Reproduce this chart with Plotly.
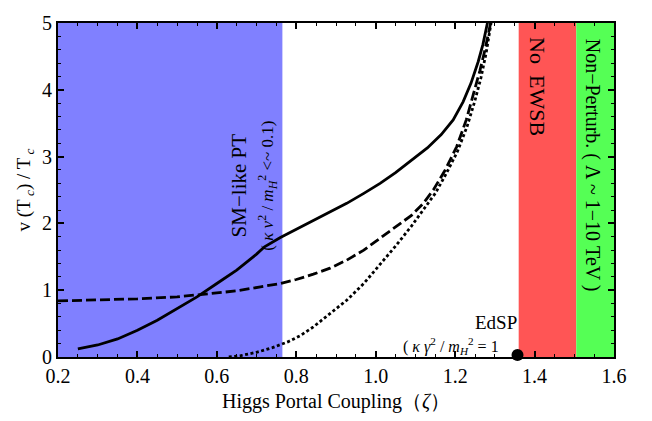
import plotly.graph_objects as go

# Data
solid_x = [0.25, 0.30, 0.35, 0.40, 0.45, 0.50, 0.55, 0.60, 0.65, 0.70, 0.72, 0.76, 0.80, 0.843, 0.885, 0.927, 0.97, 1.011, 1.05, 1.09, 1.13, 1.165, 1.195, 1.22, 1.24, 1.258, 1.27, 1.282]
solid_y = [0.12, 0.18, 0.27, 0.40, 0.55, 0.72, 0.90, 1.10, 1.30, 1.54, 1.65, 1.79, 1.91, 2.04, 2.17, 2.30, 2.45, 2.60, 2.76, 2.94, 3.13, 3.33, 3.55, 3.82, 4.10, 4.42, 4.68, 5.02]

dashed_x = [0.20, 0.30, 0.40, 0.50, 0.573, 0.65, 0.71, 0.76, 0.80, 0.843, 0.885, 0.927, 0.97, 1.011, 1.05, 1.09, 1.12, 1.145, 1.175, 1.204, 1.228, 1.246, 1.262, 1.276, 1.29]
dashed_y = [0.84, 0.85, 0.87, 0.90, 0.94, 0.99, 1.05, 1.10, 1.16, 1.24, 1.33, 1.45, 1.60, 1.78, 1.95, 2.12, 2.30, 2.50, 2.80, 3.15, 3.55, 3.92, 4.28, 4.62, 5.02]

dotted_x = [0.63, 0.66, 0.70, 0.74, 0.78, 0.81, 0.843, 0.88, 0.927, 0.97, 1.011, 1.05, 1.09, 1.12, 1.15, 1.178, 1.206, 1.23, 1.249, 1.265, 1.278, 1.291]
dotted_y = [0.0, 0.02, 0.07, 0.14, 0.23, 0.32, 0.45, 0.62, 0.85, 1.10, 1.38, 1.66, 1.96, 2.20, 2.45, 2.75, 3.08, 3.45, 3.82, 4.18, 4.55, 5.02]

regions = [(0.2, 0.765, "#8080FF"), (1.36, 1.505, "#FF5555"), (1.505, 1.6, "#55FF55")]
edsp_x = [1.357]
edsp_y = [0.03]

FONT = "Liberation Serif"

fig = go.Figure()
for x0, x1, c in regions:
    fig.add_shape(type="rect", xref="x", yref="y", x0=x0, x1=x1, y0=0, y1=5,
                  fillcolor=c, line_width=0, layer="below")

fig.add_trace(go.Scatter(x=solid_x, y=solid_y, mode="lines",
                         line=dict(color="black", width=2.8), showlegend=False))
fig.add_trace(go.Scatter(x=dashed_x, y=dashed_y, mode="lines",
                         line=dict(color="black", width=2.8, dash="10px,4px"), showlegend=False))
fig.add_trace(go.Scatter(x=dotted_x, y=dotted_y, mode="lines",
                         line=dict(color="black", width=2.8, dash="3px,2.5px"), showlegend=False))
fig.add_trace(go.Scatter(x=edsp_x, y=edsp_y, mode="markers", cliponaxis=False,
                         marker=dict(color="black", size=12), showlegend=False))

fig.add_annotation(x=0.692, y=2.57, xref="x", yref="y", textangle=-90, showarrow=False,
                   text="SM−like PT<br><span style='font-size:17px'>( <i>κ v</i><sup>2</sup> / <i>m<sub>H</sub></i><sup>2</sup> <~ 0.1)</span>",
                   font=dict(family=FONT, size=21, color="black"))
fig.add_annotation(x=1.407, y=4.05, xref="x", yref="y", textangle=90, showarrow=False,
                   text="No  EWSB", font=dict(family=FONT, size=22, color="black"))
fig.add_annotation(x=1.546, y=2.87, xref="x", yref="y", textangle=90, showarrow=False,
                   text="Non−Perturb. ( Λ ~ 1−10 TeV )", font=dict(family=FONT, size=20, color="black"))
fig.add_annotation(x=1.304, y=0.51, xref="x", yref="y", showarrow=False,
                   text="EdSP", font=dict(family=FONT, size=19, color="black"))
fig.add_annotation(x=1.19, y=0.17, xref="x", yref="y", showarrow=False,
                   text="( <i>κ γ</i><sup>2</sup> / <i>m<sub>H</sub></i><sup>2</sup> = 1",
                   font=dict(family=FONT, size=16, color="black"))

axis_common = dict(showgrid=False, zeroline=False, showline=True, linecolor="black", linewidth=2.2,
                   mirror="allticks", ticks="inside", ticklen=6, tickwidth=1.6, tickcolor="black",
                   tickfont=dict(family=FONT, size=20, color="black"))

fig.update_xaxes(range=[0.2, 1.6], tick0=0.2, dtick=0.2, tickformat=".1f",
                 minor=dict(ticks="inside", ticklen=3, dtick=0.05, tick0=0.2, tickcolor="black", tickwidth=1.3),
                 title=dict(text="Higgs Portal Coupling（<i>ζ</i>）", font=dict(family=FONT, size=20, color="black"), standoff=8),
                 **axis_common)
fig.update_yaxes(range=[0, 5], tick0=0, dtick=1,
                 minor=dict(ticks="inside", ticklen=3, dtick=0.2, tick0=0, tickcolor="black", tickwidth=1.3),
                 title=dict(text="v (T<sub> <i>c</i></sub>) / T<sub> <i>c</i></sub>", font=dict(family=FONT, size=19, color="black"), standoff=6),
                 **axis_common)

fig.update_layout(width=652, height=421, margin=dict(l=58, r=38, t=16, b=64),
                  plot_bgcolor="white", paper_bgcolor="white")

fig.write_html("out.html")
